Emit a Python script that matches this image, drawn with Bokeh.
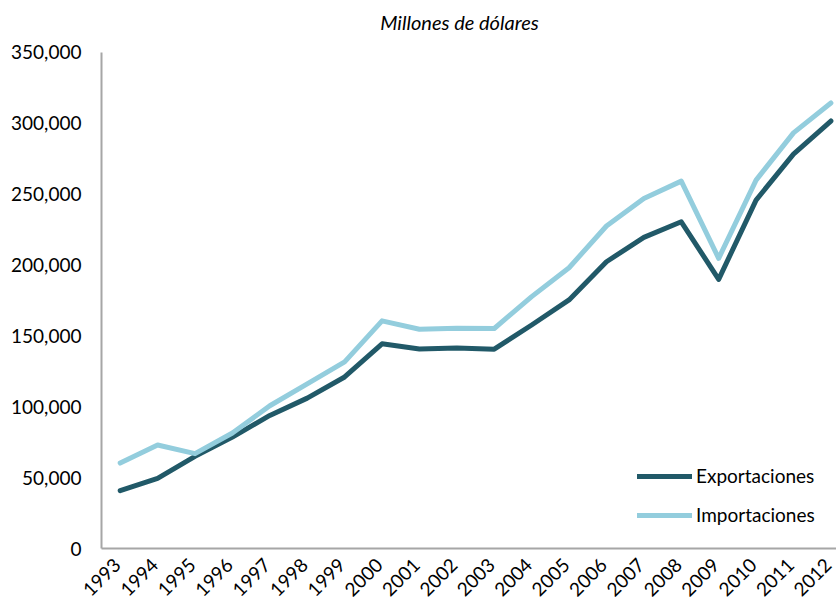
import math
from bokeh.plotting import figure
from bokeh.models import (ColumnDataSource, FixedTicker, NumeralTickFormatter, Range1d,
                          Legend, LegendItem, LinearAxis, Label)
from bokeh.embed import file_html
from bokeh.resources import INLINE

years = list(range(1993, 2013))
exportaciones = [40800, 49500, 65000, 78600, 93900, 106100, 121000, 144400, 140800, 141500,
                 140600, 157700, 175400, 202300, 219500, 230500, 189900, 245800, 278200, 301600]
importaciones = [60300, 73000, 66900, 81500, 100700, 116200, 131700, 160600, 154700, 155400,
                 155200, 177700, 198100, 227500, 247000, 259200, 204700, 259900, 293200, 314300]
y_ticks = [0, 50000, 100000, 150000, 200000, 250000, 300000, 350000]
title_text = "Millones de dólares"

FONT = "Lato"

src = ColumnDataSource(dict(year=years, exp=exportaciones, imp=importaciones))

X0, X1 = 1992.5, 2012.15
LABEL_SHIFT = 0.08
Y_MAX = 350000
FRAME_H = 549          # frame from canvas top to x-axis line
AXIS_TOP = 52          # canvas y of the 350,000 tick
y_end = Y_MAX * FRAME_H / (FRAME_H - AXIS_TOP)

p = figure(width=836, height=605, output_backend="svg", toolbar_location=None,
           x_range=Range1d(X0, X1), y_range=Range1d(0, y_end),
           min_border_left=101, min_border_right=0, min_border_top=0, min_border_bottom=56,
           x_axis_location=None)
p.extra_x_ranges = {"labels": Range1d(X0 + LABEL_SHIFT, X1 + LABEL_SHIFT)}
p.outline_line_color = None
p.grid.visible = False
p.background_fill_color = "white"
p.border_fill_color = "white"

r_exp = p.line("year", "exp", source=src, line_color="#215968", line_width=5,
               line_join="round", line_cap="round")
r_imp = p.line("year", "imp", source=src, line_color="#93CDDD", line_width=5,
               line_join="round", line_cap="round")

# y axis
p.yaxis.ticker = FixedTicker(ticks=y_ticks)
p.yaxis.bounds = (0, Y_MAX)
p.yaxis.formatter = NumeralTickFormatter(format="0,0")
p.yaxis.major_tick_line_color = None
p.yaxis.minor_tick_line_color = None
p.yaxis.major_tick_out = 0
p.yaxis.major_label_standoff = 20
p.yaxis.axis_line_color = "#A6A6A6"
p.yaxis.axis_line_width = 2
p.yaxis.major_label_text_font = FONT
p.yaxis.major_label_text_font_size = "19px"
p.yaxis.major_label_text_color = "#000000"

# x axis
xaxis = LinearAxis(x_range_name="labels")
xaxis.ticker = FixedTicker(ticks=years)
xaxis.major_label_overrides = {y: str(y) for y in years}
xaxis.major_tick_line_color = None
xaxis.minor_tick_line_color = None
xaxis.major_tick_out = 0
xaxis.major_tick_in = 0
xaxis.major_label_standoff = 13
xaxis.axis_line_color = "#A6A6A6"
xaxis.axis_line_width = 2
xaxis.major_label_orientation = math.pi / 4
xaxis.major_label_text_font = FONT
xaxis.major_label_text_font_size = "19px"
xaxis.major_label_text_color = "#000000"
p.add_layout(xaxis, "below")

legend = Legend(items=[LegendItem(label="Exportaciones", renderers=[r_exp]),
                       LegendItem(label="Importaciones", renderers=[r_imp])],
                location=(536, 22), padding=0, margin=0, spacing=16,
                glyph_width=55, glyph_height=20, label_height=20, label_standoff=4,
                border_line_color=None, background_fill_alpha=0,
                label_text_font=FONT, label_text_font_size="19px",
                label_text_color="#000000")
p.add_layout(legend, "center")

title = Label(x=358, y=FRAME_H - 22, x_units="screen", y_units="screen", text=title_text,
              text_font=FONT, text_font_size="20px", text_font_style="italic",
              text_align="center", text_baseline="middle", text_color="#000000")
p.add_layout(title)

open("out.html", "w").write(file_html(p, INLINE))
